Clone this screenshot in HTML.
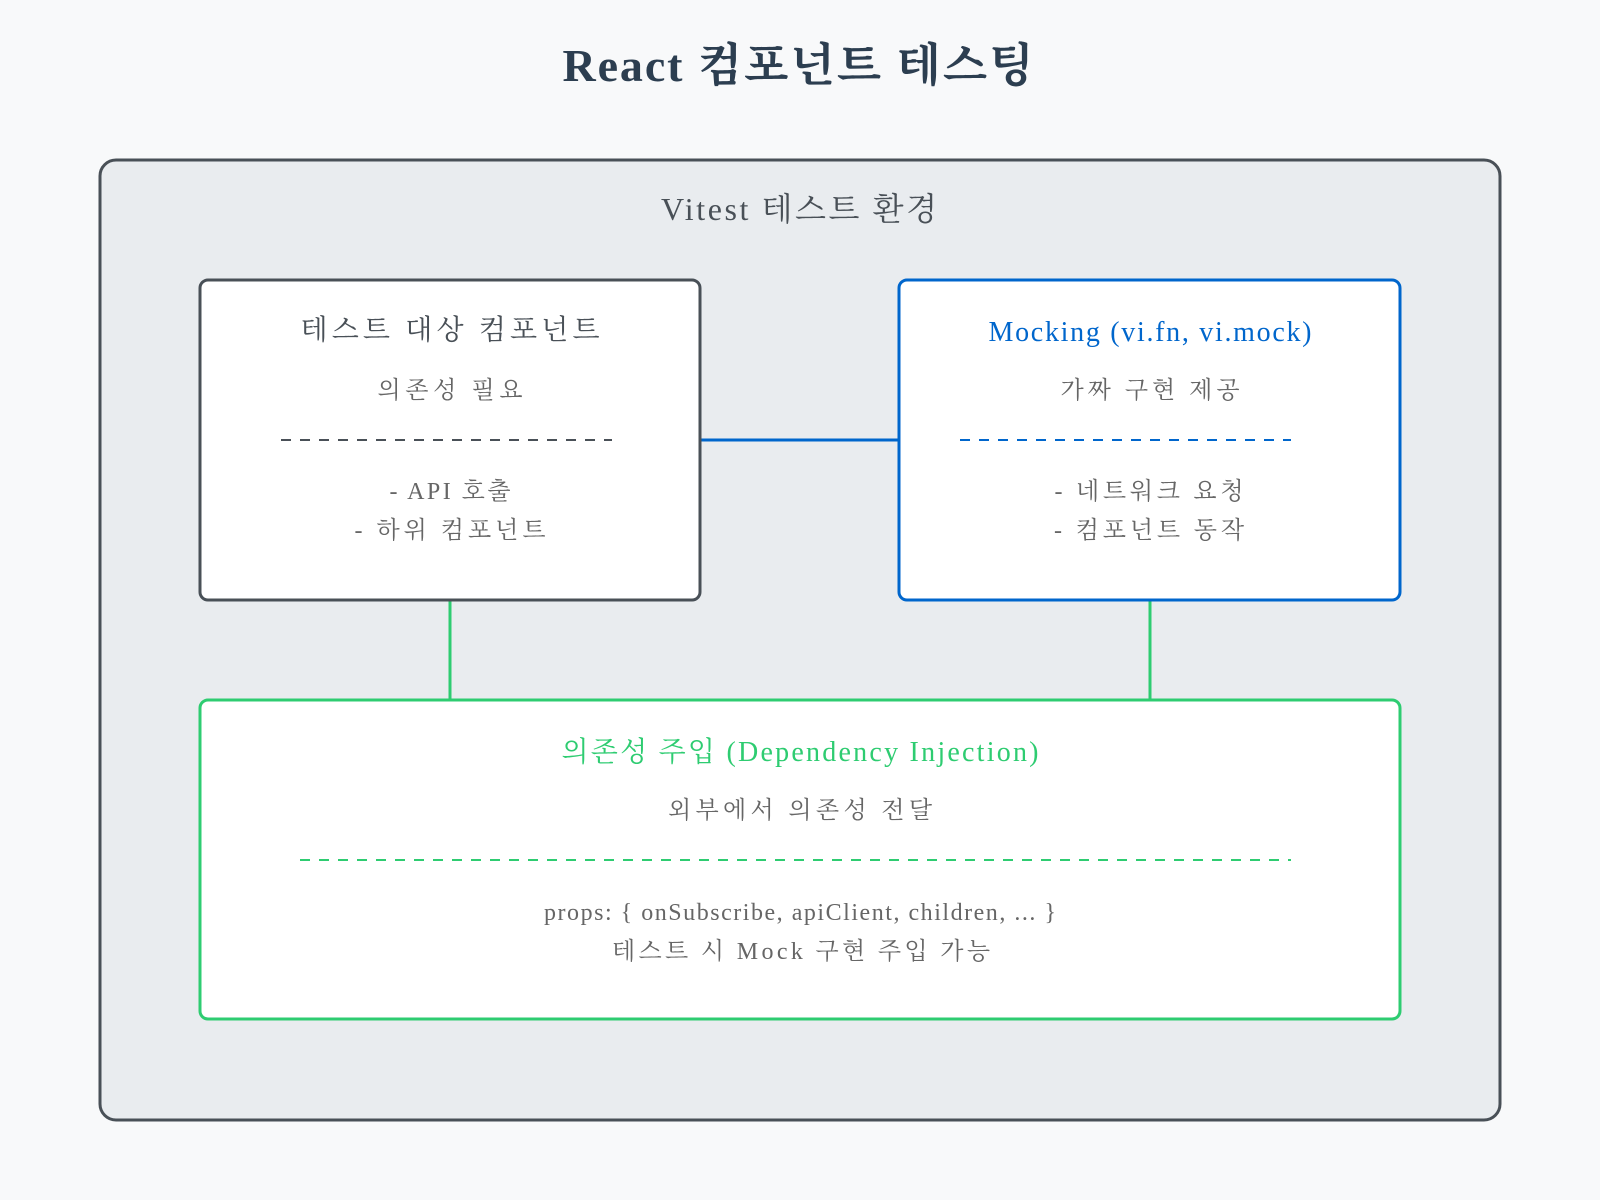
<!DOCTYPE html>
<html><head><meta charset="utf-8"><style>
html,body{margin:0;padding:0;background:#f8f9fa;}
svg{display:block;}
text{font-family:"Liberation Serif","Noto Serif CJK SC",serif;}
</style></head><body>
<svg width="1600" height="1200" viewBox="0 0 1600 1200" xmlns="http://www.w3.org/2000/svg">
<rect width="1600" height="1200" fill="#f8f9fa"/>
<text x="798" y="81" text-anchor="middle" font-size="46" font-weight="bold" fill="#2c3e50" textLength="471" lengthAdjust="spacing">React 컴포넌트 테스팅</text>
<rect x="100" y="160" width="1400" height="960" rx="16" fill="#e9ecef" stroke="#495057" stroke-width="3"/>
<text x="799" y="220" text-anchor="middle" font-size="32" fill="#495057" textLength="276" lengthAdjust="spacing">Vitest 테스트 환경</text>

<line x1="700" y1="440" x2="899" y2="440" stroke="#0066cc" stroke-width="3"/>
<line x1="450" y1="600" x2="450" y2="700" stroke="#2ecc71" stroke-width="3"/>
<line x1="1150" y1="600" x2="1150" y2="700" stroke="#2ecc71" stroke-width="3"/>

<rect x="200" y="280" width="500" height="320" rx="8" fill="#fff" stroke="#495057" stroke-width="3"/>
<text x="450" y="339" text-anchor="middle" font-size="28" fill="#495057" textLength="299" lengthAdjust="spacing">테스트 대상 컴포넌트</text>
<text x="450" y="398" text-anchor="middle" font-size="24" fill="#666" textLength="145" lengthAdjust="spacing">의존성 필요</text>
<line x1="281" y1="440" x2="612" y2="440" stroke="#495057" stroke-width="2" stroke-dasharray="10,9"/>
<text x="450" y="499" text-anchor="middle" font-size="24" fill="#666" textLength="121" lengthAdjust="spacing">- API 호출</text>
<text x="450" y="538" text-anchor="middle" font-size="24" fill="#666" textLength="191" lengthAdjust="spacing">- 하위 컴포넌트</text>

<rect x="899" y="280" width="501" height="320" rx="8" fill="#fff" stroke="#0066cc" stroke-width="3"/>
<text x="1150" y="341" text-anchor="middle" font-size="28" fill="#0066cc" textLength="323" lengthAdjust="spacing">Mocking (vi.fn, vi.mock)</text>
<text x="1150" y="398" text-anchor="middle" font-size="24" fill="#666" textLength="179" lengthAdjust="spacing">가짜 구현 제공</text>
<line x1="960" y1="440" x2="1291" y2="440" stroke="#0066cc" stroke-width="2" stroke-dasharray="10,9"/>
<text x="1149" y="499" text-anchor="middle" font-size="24" fill="#666" textLength="189" lengthAdjust="spacing">- 네트워크 요청</text>
<text x="1149" y="538" text-anchor="middle" font-size="24" fill="#666" textLength="190" lengthAdjust="spacing">- 컴포넌트 동작</text>

<rect x="200" y="700" width="1200" height="319" rx="8" fill="#fff" stroke="#2ecc71" stroke-width="3"/>
<text x="800" y="761" text-anchor="middle" font-size="28" fill="#2ecc71" textLength="477" lengthAdjust="spacing">의존성 주입 (Dependency Injection)</text>
<text x="800" y="818" text-anchor="middle" font-size="24" fill="#666" textLength="264" lengthAdjust="spacing">외부에서 의존성 전달</text>
<line x1="300" y1="860" x2="1291" y2="860" stroke="#2ecc71" stroke-width="2" stroke-dasharray="10,9"/>
<text x="800" y="920" text-anchor="middle" font-size="24" fill="#666" textLength="512" lengthAdjust="spacing">props: { onSubscribe, apiClient, children, ... }</text>
<text x="801" y="959" text-anchor="middle" font-size="24" fill="#666" textLength="378" lengthAdjust="spacing">테스트 시 Mock 구현 주입 가능</text>
</svg>
</body></html>
